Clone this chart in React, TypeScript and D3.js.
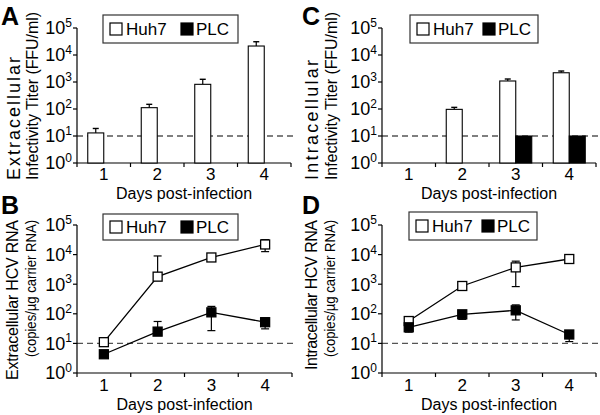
import React from "react";
import * as d3 from "d3";

const days = ["1", "2", "3", "4"];
const exponents = [0, 1, 2, 3, 4, 5];
const detectionLimit = 10;

// Panel A: extracellular infectivity titer (FFU/ml)
const extTiterHuh7 = [13, 112, 820, 21500];
const extTiterHuh7Hi = [19, 149, 1260, 31000];
const extTiterPLC: (number | null)[] = [null, null, null, null];

// Panel C: intracellular infectivity titer (FFU/ml)
const intTiterHuh7: (number | null)[] = [null, 97, 1090, 2200];
const intTiterHuh7Hi: (number | null)[] = [null, 115, 1290, 2550];
const intTiterPLC: (number | null)[] = [null, null, 10, 10];

// Panel B: extracellular HCV RNA
const extRnaHuh7 = [11, 1800, 8000, 22000];
const extRnaHuh7Hi = [12.5, 9000, 9000, 32000];
const extRnaHuh7Lo = [9, 1800, 7200, 12600];
const extRnaPLC = [4.3, 25, 112, 52];
const extRnaPLCHi = [4.8, 55, 178, 72];
const extRnaPLCLo = [4, 25, 27, 31];

// Panel D: intracellular HCV RNA
const intRnaHuh7 = [57, 870, 3700, 7100];
const intRnaHuh7Hi = [62, 900, 6000, 7500];
const intRnaHuh7Lo = [52, 870, 830, 6800];
const intRnaPLC = [35, 96, 131, 20];
const intRnaPLCHi = [40, 100, 200, 25];
const intRnaPLCLo = [24, 65, 62, 11.5];

const FONT = "'Liberation Sans', Arial, Helvetica, sans-serif";

type Geom = {
  x0: number; x1: number; yTop: number; yBot: number;
};

function Axes({ g, xScale, yScale, catY, titleY }: any) {
  const { x0, x1, yTop, yBot } = g;
  const bw = xScale.step();
  return (
    <g>
      <line x1={x0} x2={x1 + 4} y1={yScale(detectionLimit)} y2={yScale(detectionLimit)}
        stroke="#555" strokeWidth={1.3} strokeDasharray="6,4" />
      <line x1={x0} x2={x0} y1={yTop} y2={yBot} stroke="#000" strokeWidth={1.2} />
      <line x1={x0} x2={x1} y1={yBot} y2={yBot} stroke="#000" strokeWidth={1.2} />
      {exponents.map((e) => (
        <g key={e}>
          <line x1={x0 - 4} x2={x0} y1={yScale(Math.pow(10, e))} y2={yScale(Math.pow(10, e))} stroke="#000" strokeWidth={1.2} />
          <text x={x0 - 5} y={yScale(Math.pow(10, e))} dy="0.36em" textAnchor="end" fontSize={18} fontFamily={FONT}>
            10<tspan dy={-7.5} fontSize={12}>{e}</tspan>
          </text>
        </g>
      ))}
      {d3.range(days.length + 1).map((i) => (
        <line key={i} x1={x0 + i * bw} x2={x0 + i * bw} y1={yBot} y2={yBot + 4} stroke="#000" strokeWidth={1.2} />
      ))}
      {days.map((d) => (
        <text key={d} x={(xScale(d) as number) + bw / 2} y={catY} textAnchor="middle" fontSize={17} fontFamily={FONT}>{d}</text>
      ))}
      <text x={(x0 + x1) / 2} y={titleY} textAnchor="middle" fontSize={16} fontFamily={FONT}>Days post-infection</text>
    </g>
  );
}

function YTitle({ x, y, text, anchor, len, size = 15.5, adjust = "spacing" }: any) {
  return (
    <text transform={`translate(${x},${y}) rotate(-90)`} dy="0.35em" textAnchor={anchor}
      fontSize={size} fontFamily={FONT} textLength={len} lengthAdjust={adjust}>{text}</text>
  );
}

function Legend({ x, y, w, h, gap }: any) {
  const cy = y + h / 2;
  return (
    <g fontFamily={FONT} fontSize={17}>
      <rect x={x} y={y} width={w} height={h} fill="#fff" stroke="#333" strokeWidth={1.2} />
      <rect x={x + 7} y={cy - 6} width={12} height={12} fill="#fff" stroke="#000" strokeWidth={1.2} />
      <text x={x + 23} y={cy} dy="0.36em">Huh7</text>
      <rect x={x + gap} y={cy - 6} width={12} height={12} fill="#000" stroke="#000" strokeWidth={1.2} />
      <text x={x + gap + 15} y={cy} dy="0.36em">PLC</text>
    </g>
  );
}

function BarPanel({ g, huh7, huh7Hi, plc, catY, titleY }: any) {
  const xScale = d3.scaleBand().domain(days).range([g.x0, g.x1]);
  const yScale = d3.scaleLog().domain([1, 1e5]).range([g.yBot, g.yTop]);
  const bw = xScale.step();
  const barW = 16;
  return (
    <g>
      <Axes g={g} xScale={xScale} yScale={yScale} catY={catY} titleY={titleY} />
      {days.map((d, i) => {
        const cx = (xScale(d) as number) + bw / 2;
        const els: any[] = [];
        if (huh7[i] != null) {
          const top = yScale(huh7[i]);
          if (huh7Hi[i] != null) {
            const hy = yScale(huh7Hi[i]);
            els.push(<line key="e" x1={cx - barW / 2} x2={cx - barW / 2} y1={top} y2={hy} stroke="#000" strokeWidth={1.2} />);
            els.push(<line key="c" x1={cx - barW / 2 - 3} x2={cx - barW / 2 + 3} y1={hy} y2={hy} stroke="#000" strokeWidth={1.4} />);
          }
          els.push(<rect key="h" x={cx - barW} y={top} width={barW} height={g.yBot - top} fill="#fff" stroke="#000" strokeWidth={1.1} />);
        }
        if (plc[i] != null) {
          const top = yScale(plc[i]);
          els.push(<rect key="p" x={cx} y={top} width={barW} height={g.yBot - top} fill="#000" stroke="#000" strokeWidth={1.1} />);
        }
        return <g key={d}>{els}</g>;
      })}
    </g>
  );
}

function LinePanel({ g, huh7, huh7Hi, huh7Lo, plc, plcHi, plcLo, catY, titleY }: any) {
  const xScale = d3.scaleBand().domain(days).range([g.x0, g.x1]);
  const yScale = d3.scaleLog().domain([1, 1e5]).range([g.yBot, g.yTop]);
  const bw = xScale.step();
  const px = (i: number) => (xScale(days[i]) as number) + bw / 2;
  const line = d3.line<number>().x((_, i) => px(i)).y((v) => yScale(v));
  const series = [
    { v: huh7, hi: huh7Hi, lo: huh7Lo, fill: "#fff" },
    { v: plc, hi: plcHi, lo: plcLo, fill: "#000" },
  ];
  const m = 9;
  return (
    <g>
      <Axes g={g} xScale={xScale} yScale={yScale} catY={catY} titleY={titleY} />
      {series.map((s, k) => (
        <path key={"l" + k} d={line(s.v) as string} fill="none" stroke="#000" strokeWidth={1.3} />
      ))}
      {series.map((s, k) =>
        s.v.map((v: number, i: number) => {
          const x = px(i);
          const yh = yScale(s.hi[i]);
          const yl = yScale(s.lo[i]);
          return (
            <g key={"e" + k + i} stroke="#000" strokeWidth={1.2}>
              <line x1={x} x2={x} y1={yh} y2={yl} />
              <line x1={x - 4} x2={x + 4} y1={yh} y2={yh} />
              <line x1={x - 4} x2={x + 4} y1={yl} y2={yl} />
            </g>
          );
        })
      )}
      {series.map((s, k) =>
        s.v.map((v: number, i: number) => (
          <rect key={"m" + k + i} x={px(i) - m / 2} y={yScale(v) - m / 2} width={m} height={m}
            fill={s.fill} stroke="#000" strokeWidth={1.3} />
        ))
      )}
    </g>
  );
}

export default function App() {
  const gA: Geom = { x0: 77, x1: 291, yTop: 28, yBot: 163 };
  const gC: Geom = { x0: 382, x1: 596, yTop: 28, yBot: 163 };
  const gB: Geom = { x0: 77, x1: 292, yTop: 225, yBot: 373 };
  const gD: Geom = { x0: 382, x1: 596, yTop: 225, yBot: 373 };
  return (
    <svg width={600} height={415} viewBox="0 0 600 415"
      style={{ position: "absolute", left: 0, top: 0, background: "#fff" }}>
      <rect width={600} height={415} fill="#fff" />
      <g fontFamily={FONT} fontWeight="bold" fontSize={25}>
        <text x={1} y={25}>A</text>
        <text x={1} y={214}>B</text>
        <text x={302} y={25}>C</text>
        <text x={302} y={214}>D</text>
      </g>

      <BarPanel g={gA} huh7={extTiterHuh7} huh7Hi={extTiterHuh7Hi} plc={extTiterPLC} catY={180} titleY={199} />
      <YTitle x={14} y={180} anchor="start" text="Extracellular" len={123} size={18} />
      <YTitle x={32} y={180} anchor="start" text="Infectivity Titer (FFU/ml)" len={168} size={16} />
      <Legend x={103} y={15} w={135} h={28} gap={78} />

      <BarPanel g={gC} huh7={intTiterHuh7} huh7Hi={intTiterHuh7Hi} plc={intTiterPLC} catY={180} titleY={199} />
      <YTitle x={312} y={180} anchor="start" text="Intracellular" len={120} size={18} />
      <YTitle x={331} y={180} anchor="start" text="Infectivity Titer (FFU/ml)" len={168} size={16} />
      <Legend x={410} y={15} w={128} h={28} gap={73} />

      <LinePanel g={gB} huh7={extRnaHuh7} huh7Hi={extRnaHuh7Hi} huh7Lo={extRnaHuh7Lo}
        plc={extRnaPLC} plcHi={extRnaPLCHi} plcLo={extRnaPLCLo} catY={391} titleY={410} />
      <YTitle x={12} y={220} anchor="end" text="Extracellular HCV RNA" len={160} size={16} />
      <YTitle x={31} y={220} anchor="end" text="(copies/µg carrier RNA)" len={137} size={15} adjust="spacingAndGlyphs" />
      <Legend x={103} y={214} w={135} h={26} gap={78} />

      <LinePanel g={gD} huh7={intRnaHuh7} huh7Hi={intRnaHuh7Hi} huh7Lo={intRnaHuh7Lo}
        plc={intRnaPLC} plcHi={intRnaPLCHi} plcLo={intRnaPLCLo} catY={391} titleY={410} />
      <YTitle x={311} y={220} anchor="end" text="Intracellular HCV RNA" len={150} size={16} />
      <YTitle x={330} y={220} anchor="end" text="(copies/µg carrier RNA)" len={137} size={15} adjust="spacingAndGlyphs" />
      <Legend x={409} y={212} w={128} h={28} gap={73} />
    </svg>
  );
}
